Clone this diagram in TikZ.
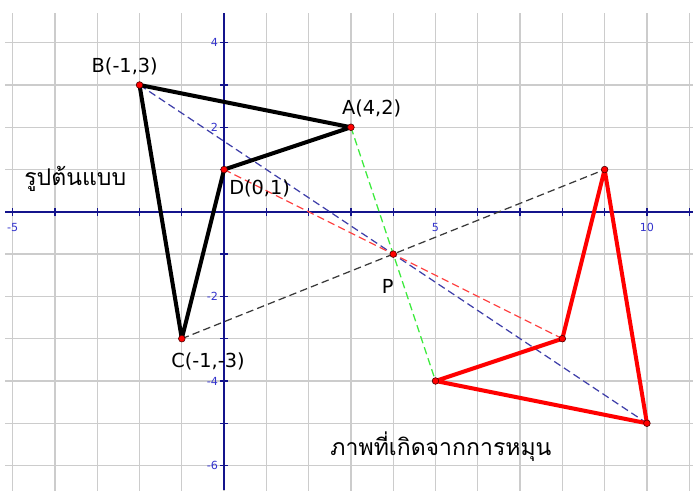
\documentclass[tikz,border=0pt]{standalone}
\usepackage{fontspec}
\setmainfont{DejaVu Sans}
\newfontfamily\thaifont[Script=Thai]{Loma}
\definecolor{gridc}{RGB}{204,204,204}
\definecolor{axisc}{RGB}{20,20,140}
\definecolor{tickc}{RGB}{51,51,204}
\definecolor{dblue}{RGB}{64,64,170}
\definecolor{dred}{RGB}{255,70,70}
\definecolor{dgreen}{RGB}{60,235,60}
\definecolor{dblack}{RGB}{60,60,60}
\tikzset{
  gridline/.style={draw=gridc, line width=0.9pt},
  axisline/.style={draw=axisc, line width=0.9pt},
  ticklab/.style={text=tickc, font=\fontsize{7.5}{8}\selectfont, inner sep=0pt},
  dashline/.style={line width=0.85pt, dash pattern=on 5pt off 2.8pt},
  thickblack/.style={draw=black, line width=2.7pt, line join=round, line cap=round},
  thickred/.style={draw=red, line width=2.7pt, line join=round, line cap=round},
  ptdot/.style={circle, fill=red, draw=black!70!red, line width=0.4pt, inner sep=0pt, minimum size=4.5pt},
  ptlab/.style={font=\fontsize{13}{15}\selectfont, inner sep=0pt},
  thailab/.style={font=\thaifont\fontsize{15.5}{18}\selectfont, inner sep=0pt}
}
\begin{document}
\begin{tikzpicture}[x=1cm,y=1cm]
\useasboundingbox (-5.30,-6.58) rectangle (11.09,5.01);
\fill[white] (-5.30,-6.58) rectangle (11.09,5.01);
% grid
\begin{scope}
  \clip (-5.18,-6.58) rectangle (11.09,4.70);
  \draw[gridline] (-6,-7) grid (12,5);
\end{scope}
% axes
\draw[axisline] (-5.18,0) -- (11.09,0);
\draw[axisline] (0,4.70) -- (0,-6.58);
\foreach \x in {-5,...,11} \draw[axisline] (\x,-0.1) -- (\x,0.1);
\foreach \y in {-6,...,4} \draw[axisline] (-0.1,\y) -- (0.1,\y);
\foreach \x in {-5,5,10} \node[ticklab] at (\x,-0.38) {\x};
\foreach \y in {4,2,-2,-4,-6} \node[ticklab, anchor=east] at (-0.14,\y) {\y};
% points
\coordinate (A) at (3,2);
\coordinate (B) at (-2,3);
\coordinate (C) at (-1,-3);
\coordinate (D) at (0,1);
\coordinate (P) at (4,-1);
\coordinate (A1) at (5,-4);
\coordinate (B1) at (10,-5);
\coordinate (C1) at (9,1);
\coordinate (D1) at (8,-3);
% dashed connectors
\draw[dashline, draw=dgreen] (A) -- (A1);
\draw[dashline, draw=dblue] (B) -- (B1);
\draw[dashline, draw=dblack] (C) -- (C1);
\draw[dashline, draw=dred] (D) -- (D1);
% figures
\draw[thickblack] (B) -- (A) -- (D) -- (C) -- cycle;
\draw[thickred] (B1) -- (A1) -- (D1) -- (C1) -- cycle;
% dots
\foreach \p in {A,B,C,D,P,A1,B1,C1,D1} \node[ptdot] (dot\p) at (\p) {};
% labels
\node[ptlab] (labB) at (-2.35,3.45) {B(-1,3)};
\node[ptlab] (labA) at (3.49,2.45) {A(4,2)};
\node[ptlab] (labD) at (0.84,0.56) {D(0,1)};
\node[ptlab] (labC) at (-0.38,-3.54) {C(-1,-3)};
\node[ptlab] (labP) at (3.87,-1.77) {P};
\node[thailab] (orig) at (-3.52,0.78) {รูปต้นแบบ};
\node[thailab] (img) at (5.13,-5.56) {ภาพที่เกิดจากการหมุน};
\end{tikzpicture}
\end{document}
